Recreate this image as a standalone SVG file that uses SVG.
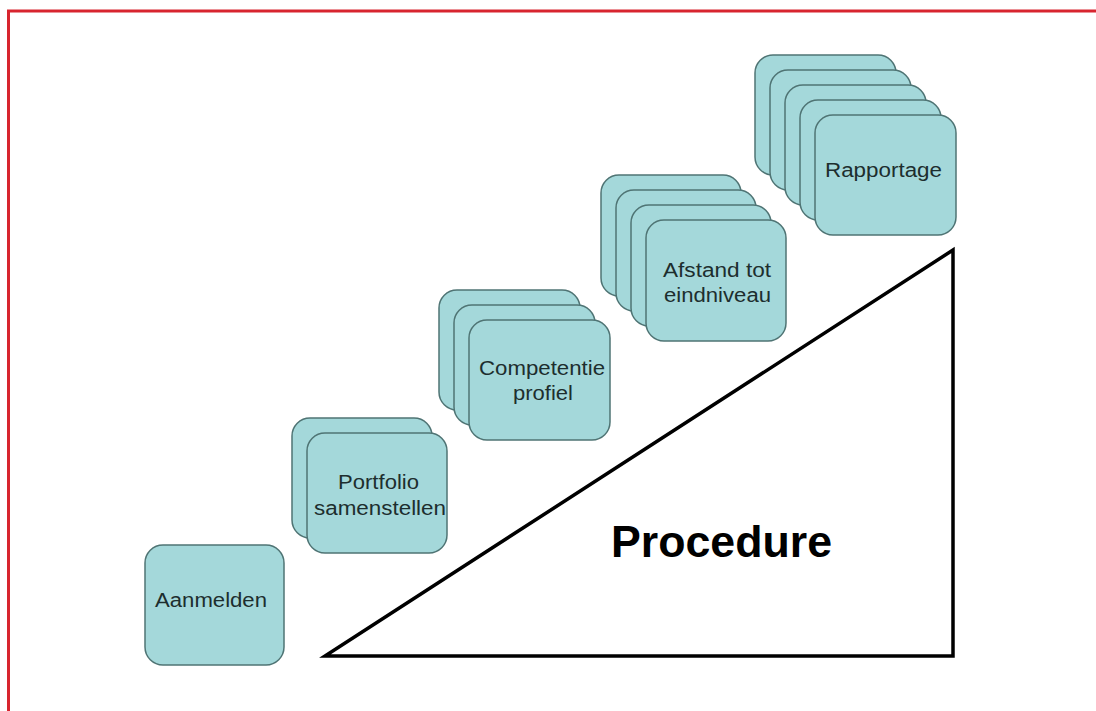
<svg xmlns="http://www.w3.org/2000/svg" width="1096" height="711" viewBox="0 0 1096 711">
<style>
.card{fill:#a4d8da;stroke:#4f7474;stroke-width:1.5}
.lbl{font-family:"Liberation Sans",Arial,sans-serif;font-size:20px;fill:#1d2e2e;text-anchor:middle}
.title{font-family:"Liberation Sans",Arial,sans-serif;font-size:44px;font-weight:bold;fill:#000}
</style>
<rect width="1096" height="711" fill="#ffffff"/>
<g id="frame">
<line x1="7" y1="11" x2="1096" y2="11" stroke="#d8252f" stroke-width="3"/>
<line x1="8.5" y1="10" x2="8.5" y2="711" stroke="#d8252f" stroke-width="3"/>
</g>
<g id="connectors"></g>
<g id="triangle">
<polygon points="325,656 953,656 953,250" fill="#ffffff" stroke="#000" stroke-width="3.5" stroke-linejoin="miter"/>
<text class="title" x="611" y="557" textLength="221" lengthAdjust="spacingAndGlyphs">Procedure</text>
</g>
<g id="aanmelden">
<rect class="card" x="145" y="545" width="139" height="120" rx="18"/>
<text class="lbl" x="211" y="607" textLength="112" lengthAdjust="spacingAndGlyphs">Aanmelden</text>
</g>
<g id="portfolio">
<rect class="card" x="292" y="418" width="140" height="120" rx="18"/>
<rect class="card" x="307" y="433" width="140" height="120" rx="18"/>
<text class="lbl" x="378.5" y="489" textLength="81" lengthAdjust="spacingAndGlyphs">Portfolio</text>
<text class="lbl" x="380" y="515" textLength="132" lengthAdjust="spacingAndGlyphs">samenstellen</text>
</g>
<g id="competentie">
<rect class="card" x="439" y="290" width="141" height="120" rx="18"/>
<rect class="card" x="454" y="305" width="141" height="120" rx="18"/>
<rect class="card" x="469" y="320" width="141" height="120" rx="18"/>
<text class="lbl" x="542" y="375" textLength="126" lengthAdjust="spacingAndGlyphs">Competentie</text>
<text class="lbl" x="543" y="400" textLength="60" lengthAdjust="spacingAndGlyphs">profiel</text>
</g>
<g id="afstand">
<rect class="card" x="601" y="175" width="140" height="121" rx="18"/>
<rect class="card" x="616" y="190" width="140" height="121" rx="18"/>
<rect class="card" x="631" y="205" width="140" height="121" rx="18"/>
<rect class="card" x="646" y="220" width="140" height="121" rx="18"/>
<text class="lbl" x="717" y="277" textLength="108" lengthAdjust="spacingAndGlyphs">Afstand tot</text>
<text class="lbl" x="717.5" y="302" textLength="107" lengthAdjust="spacingAndGlyphs">eindniveau</text>
</g>
<g id="rapportage">
<rect class="card" x="755" y="55" width="141" height="120" rx="18"/>
<rect class="card" x="770" y="70" width="141" height="120" rx="18"/>
<rect class="card" x="785" y="85" width="141" height="120" rx="18"/>
<rect class="card" x="800" y="100" width="141" height="120" rx="18"/>
<rect class="card" x="815" y="115" width="141" height="120" rx="18"/>
<text class="lbl" x="883.5" y="177" textLength="117" lengthAdjust="spacingAndGlyphs">Rapportage</text>
</g>
</svg>
